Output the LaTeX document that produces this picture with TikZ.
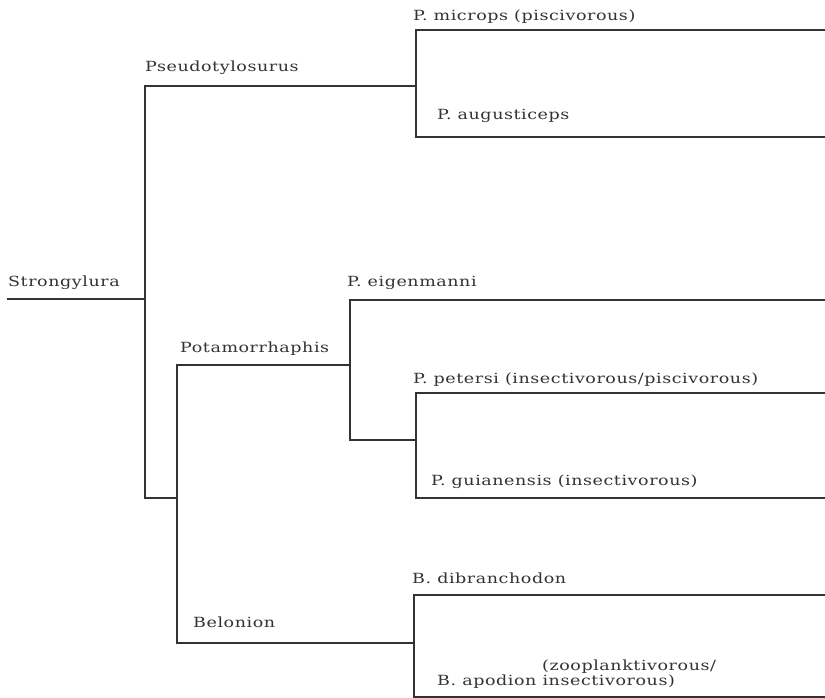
\documentclass[tikz,border=0pt]{standalone}
\usepackage{fontspec}
\setmainfont{DejaVu Serif}[LetterSpace=4,FakeStretch=1.25]
\definecolor{ink}{HTML}{333333}
\begin{document}
\begin{tikzpicture}[x=1pt,y=-1pt,
  branch/.style={draw=ink,line width=2.8pt,line cap=rect},
  lbl/.style={anchor=base west,inner sep=0pt,text=ink,font=\fontsize{14}{16}\selectfont}]
\useasboundingbox[fill=white] (0,0) rectangle (825,698);
% junction and tip coordinates
\coordinate (root) at (8,299);
\coordinate (n1) at (145,299);
\coordinate (n1t) at (145,86);
\coordinate (n1b) at (145,498);
\coordinate (ps) at (416,86);
\coordinate (pst) at (416,30);
\coordinate (psb) at (416,137);
\coordinate (micT) at (825,30);
\coordinate (augT) at (825,137);
\coordinate (n2) at (177,498);
\coordinate (n2t) at (177,365);
\coordinate (n2b) at (177,643);
\coordinate (po) at (350,365);
\coordinate (pot) at (350,300);
\coordinate (pob) at (350,440);
\coordinate (eigT) at (825,300);
\coordinate (pg) at (416,440);
\coordinate (pgt) at (416,393);
\coordinate (pgb) at (416,498);
\coordinate (petT) at (825,393);
\coordinate (guiT) at (825,498);
\coordinate (be) at (414,643);
\coordinate (bet) at (414,595);
\coordinate (beb) at (414,697);
\coordinate (dibT) at (825,595);
\coordinate (apoT) at (825,697);
% branches
\draw[branch] (root) -- (n1);
\draw[branch] (n1t) -- (n1b);
\draw[branch] (n1t) -- (ps);
\draw[branch] (pst) -- (psb);
\draw[branch] (pst) -- (micT);
\draw[branch] (psb) -- (augT);
\draw[branch] (n1b) -- (n2);
\draw[branch] (n2t) -- (n2b);
\draw[branch] (n2t) -- (po);
\draw[branch] (pot) -- (pob);
\draw[branch] (pot) -- (eigT);
\draw[branch] (pob) -- (pg);
\draw[branch] (pgt) -- (pgb);
\draw[branch] (pgt) -- (petT);
\draw[branch] (pgb) -- (guiT);
\draw[branch] (n2b) -- (be);
\draw[branch] (bet) -- (beb);
\draw[branch] (bet) -- (dibT);
\draw[branch] (beb) -- (apoT);
% labels
\node[lbl] (lmic) at (413,21) {P. microps (piscivorous)};
\node[lbl] (lpse) at (145,72) {Pseudotylosurus};
\node[lbl] (laug) at (437,120) {P. augusticeps};
\node[lbl] (lstr) at (8,286) {Strongylura};
\node[lbl] (leig) at (347,286) {P. eigenmanni};
\node[lbl] (lpot) at (180,352) {Potamorrhaphis};
\node[lbl] (lpet) at (413,383) {P. petersi (insectivorous/piscivorous)};
\node[lbl] (lgui) at (431,485) {P. guianensis (insectivorous)};
\node[lbl] (lbel) at (193,627) {Belonion};
\node[lbl] (ldib) at (412,583) {B. dibranchodon};
\node[lbl] (lzoo) at (542,670) {(zooplanktivorous/};
\node[lbl] (lapo) at (437,685) {B. apodion insectivorous)};
\end{tikzpicture}
\end{document}
